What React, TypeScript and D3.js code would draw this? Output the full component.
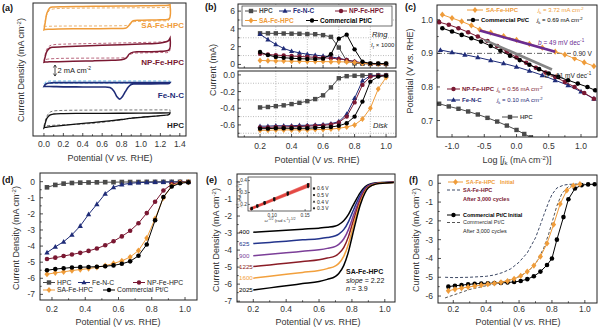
import React from 'react';
import * as d3 from 'd3';

const FONT = "'Liberation Sans', Arial, Helvetica, sans-serif";
const C_SA = '#EF9C3A';
const C_NP = '#7A1832';
const C_FE = '#1F2C78';
const C_HPC = '#4A4A4A';
const C_PT = '#000000';
const AX = '#222222';

// ---------------- (a) CV data ----------------
const CV_UP_V = [0, 0.01, 0.03, 0.06, 0.1, 0.2, 0.4, 0.6, 0.8, 1.0, 1.2, 1.28, 1.3];
const CV_LO_V = [1.3, 1.29, 1.2, 1.0, 0.92, 0.88, 0.85, 0.8, 0.7, 0.5, 0.3, 0.15, 0.05, 0.01, 0];
const FE_LO_V = [1.3, 1.29, 1.2, 1.0, 0.93, 0.9, 0.87, 0.84, 0.81, 0.78, 0.75, 0.72, 0.68, 0.6, 0.4, 0.2, 0.1, 0.05, 0.01, 0];
const OFF_SA = 8.5, OFF_NP = 1.8, OFF_FE = -3.5, OFF_HPC = -10;
const SA_CV_UP = [-2.2, -1.2, 0.8, 1.8, 1.95, 2.0, 2.05, 2.08, 2.12, 2.17, 2.22, 2.28, 2.35];
const SA_CV_LO = [2.35, -0.2, -0.35, -0.45, -0.55, -1.3, -1.85, -1.95, -1.97, -2.0, -2.02, -2.05, -2.1, -2.15, -2.2];
const SA_N2_UP = [-1.6, -0.8, 0.6, 1.4, 1.6, 1.7, 1.75, 1.78, 1.8, 1.82, 1.85, 1.9, 2.0];
const SA_N2_LO = [2.0, -0.4, -0.55, -0.65, -0.75, -1.2, -1.4, -1.45, -1.47, -1.5, -1.5, -1.52, -1.55, -1.58, -1.6];
const NP_CV_UP = [-1.4, -0.6, 0.6, 1.2, 1.35, 1.42, 1.55, 1.68, 1.8, 1.93, 2.1, 2.5, 3.0];
const NP_CV_LO = [3.0, 0.9, 0.6, 0.5, 0.45, 0.1, -0.6, -0.95, -1.05, -1.15, -1.22, -1.28, -1.32, -1.36, -1.4];
const NP_N2_UP = [-1.1, -0.2, 1.0, 1.6, 1.8, 1.9, 1.98, 2.05, 2.12, 2.2, 2.3, 2.45, 2.6];
const NP_N2_LO = [2.6, 0.5, 0.4, 0.3, 0.25, -0.1, -0.45, -0.6, -0.62, -0.64, -0.66, -0.7, -0.8, -0.95, -1.1];
const FE_CV_UP = [-0.5, -0.2, 0.05, 0.15, 0.2, 0.2, 0.2, 0.2, 0.2, 0.2, 0.2, 0.2, 0.2];
const FE_CV_LO = [0.2, 0.05, 0.0, -0.03, -0.05, -0.15, -0.6, -1.4, -2.3, -2.8, -2.3, -1.3, -0.7, -0.6, -0.58, -0.56, -0.52, -0.5, -0.48, -0.5];
const FE_N2_UP = [0.0, 0.2, 0.4, 0.48, 0.5, 0.5, 0.5, 0.5, 0.5, 0.5, 0.5, 0.5, 0.5];
const FE_N2_LO = [0.5, 0.2, 0.15, 0.13, 0.12, 0.12, 0.12, 0.12, 0.12, 0.12, 0.12, 0.1, 0.05, 0.0, 0.0];
const HPC_CV_UP = [-1.55, -0.9, 0.2, 0.8, 1.0, 1.08, 1.1, 1.12, 1.14, 1.16, 1.18, 1.2, 1.2];
const HPC_CV_LO = [1.2, 0.9, 0.7, 0.4, 0.27, 0.2, 0.12, 0.0, -0.2, -0.55, -0.9, -1.15, -1.35, -1.45, -1.55];
const HPC_N2_UP = [-1.2, -0.5, 0.6, 1.3, 1.55, 1.65, 1.7, 1.72, 1.73, 1.74, 1.75, 1.75, 1.75];
const HPC_N2_LO = [1.75, 0.9, 0.7, 0.4, 0.3, 0.2, 0.1, -0.05, -0.3, -0.7, -0.9, -1.0, -1.1, -1.15, -1.2];
const A_XTICKS = [0, 0.2, 0.4, 0.6, 0.8, 1.0, 1.2, 1.4];
const A_SCALEBAR = [-2.1, -0.1];

// ---------------- (b) RRDE data ----------------
const B_V = [0.2, 0.25, 0.3, 0.35, 0.4, 0.45, 0.5, 0.55, 0.6, 0.65, 0.7, 0.75, 0.8, 0.85, 0.9, 0.95, 1.0];
const B_RING_HPC = [3.5, 3.5, 3.5, 3.48, 3.46, 3.45, 3.42, 3.4, 3.3, 3.1, 1.9, 0.4, 0.12, 0.08, 0.06, 0.06, 0.06];
const B_RING_FE = [3.4, 2.8, 2.25, 1.8, 1.5, 1.3, 1.15, 1.05, 0.95, 0.85, 0.7, 0.5, 0.32, 0.18, 0.08, 0.05, 0.05];
const B_RING_NP = [1.2, 1.12, 1.05, 1.0, 0.95, 0.9, 0.85, 0.8, 0.75, 0.7, 0.62, 0.5, 0.32, 0.15, 0.06, 0.05, 0.05];
const B_RING_SA = [0.45, 0.42, 0.4, 0.38, 0.36, 0.35, 0.34, 0.33, 0.32, 0.31, 0.3, 0.28, 0.22, 0.12, 0.06, 0.05, 0.05];
const B_RING_PT = [1.4, 1.05, 0.85, 0.75, 0.7, 0.65, 0.62, 0.6, 0.65, 1.15, 2.9, 3.35, 1.7, 0.3, 0.12, 0.1, 0.1];
const B_DISK_HPC = [-0.39, -0.385, -0.375, -0.365, -0.35, -0.335, -0.315, -0.29, -0.245, -0.15, -0.04, -0.015, -0.01, -0.008, -0.005, -0.005, -0.005];
const B_DISK_FE = [-0.615, -0.615, -0.61, -0.61, -0.61, -0.605, -0.605, -0.6, -0.595, -0.585, -0.56, -0.47, -0.28, -0.07, -0.01, -0.005, -0.005];
const B_DISK_NP = [-0.63, -0.63, -0.625, -0.625, -0.62, -0.62, -0.615, -0.61, -0.605, -0.595, -0.57, -0.5, -0.33, -0.12, -0.02, -0.01, -0.005];
const B_DISK_PT = [-0.645, -0.645, -0.64, -0.64, -0.64, -0.64, -0.64, -0.635, -0.63, -0.625, -0.61, -0.58, -0.5, -0.32, -0.08, -0.02, -0.01];
const B_DISK_SA = [-0.665, -0.665, -0.66, -0.66, -0.66, -0.66, -0.66, -0.655, -0.655, -0.65, -0.64, -0.625, -0.6, -0.53, -0.4, -0.17, -0.03];
const B_XTICKS = [0.2, 0.4, 0.6, 0.8, 1.0];
const B_XMINOR = [0.1, 0.3, 0.5, 0.7, 0.9];
const B_YU_TICKS = [0, 2, 4, 6];
const B_YU_MINOR = [1, 3, 5];
const B_YL_TICKS = [0, -0.2, -0.4, -0.6];
const B_YL_MINOR = [-0.1, -0.3, -0.5, -0.7];

// ---------------- (c) Tafel data ----------------
const C_SA_X = [-1.15, -1.0, -0.85, -0.7, -0.57, -0.4, -0.2, 0, 0.2, 0.4, 0.6, 0.75, 0.9, 1.05, 1.2];
const C_SA_Y = [1.015, 1.005, 0.995, 0.983, 0.971, 0.962, 0.951, 0.94, 0.928, 0.917, 0.905, 0.896, 0.885, 0.873, 0.862];
const C_PT_X = [-1.15, -1.0, -0.85, -0.7, -0.55, -0.4, -0.25, -0.1, 0.05, 0.2, 0.35, 0.5, 0.65, 0.8, 0.95, 1.1, 1.22];
const C_PT_Y = [0.975, 0.965, 0.955, 0.945, 0.935, 0.922, 0.908, 0.893, 0.88, 0.866, 0.853, 0.84, 0.83, 0.82, 0.81, 0.8, 0.79];
const C_NP_X = [-1.2, -1.05, -0.9, -0.75, -0.6, -0.45, -0.3, -0.15, 0, 0.15, 0.3, 0.45, 0.6, 0.75, 0.9, 1.05, 1.2];
const C_NP_Y = [0.993, 0.985, 0.975, 0.963, 0.95, 0.937, 0.922, 0.905, 0.888, 0.872, 0.857, 0.843, 0.83, 0.815, 0.8, 0.782, 0.765];
const C_FE_X = [-1.18, -1.0, -0.8, -0.6, -0.4, -0.2, 0, 0.2, 0.4, 0.6, 0.8, 1.0, 1.2];
const C_FE_Y = [0.91, 0.903, 0.896, 0.888, 0.879, 0.87, 0.86, 0.848, 0.835, 0.82, 0.805, 0.786, 0.765];
const C_HPC_X = [-1.2, -1.05, -0.9, -0.75, -0.6, -0.45, -0.3, -0.15, 0, 0.12, 0.22];
const C_HPC_Y = [0.75, 0.742, 0.735, 0.727, 0.718, 0.708, 0.697, 0.685, 0.672, 0.66, 0.65];
const C_FIT49_X = [-0.57, 0.6];
const C_FIT49_Y = [0.968, 0.905];
const C_FIT61_X = [-0.5, 0.55];
const C_FIT61_Y = [0.94, 0.852];
const C_REF_E = 0.9;
const C_XTICKS = [-1.0, -0.5, 0.0, 0.5, 1.0];
const C_YTICKS = [0.7, 0.8, 0.9, 1.0];
const C_JK = ['3.72', '0.69', '0.56', '0.10'];

// ---------------- (d) LSV data ----------------
const D_V = [0.17, 0.22, 0.27, 0.32, 0.37, 0.42, 0.47, 0.52, 0.57, 0.62, 0.67, 0.72, 0.77, 0.82, 0.87, 0.92, 0.97, 1.02];
const D_HPC = [-0.35, -0.2, -0.12, -0.08, -0.06, -0.05, -0.04, -0.03, -0.03, -0.02, -0.02, -0.02, -0.01, -0.01, -0.01, -0.01, -0.01, -0.01];
const D_FE = [-4.4, -4.05, -3.73, -3.3, -2.75, -2.03, -1.4, -0.75, -0.35, -0.18, -0.1, -0.06, -0.04, -0.03, -0.02, -0.02, -0.01, -0.01];
const D_NP = [-4.8, -4.72, -4.62, -4.52, -4.42, -4.3, -4.15, -3.95, -3.7, -3.4, -3.05, -2.58, -1.95, -1.25, -0.55, -0.15, -0.04, -0.02];
const D_SA = [-5.75, -5.66, -5.6, -5.52, -5.46, -5.4, -5.32, -5.22, -5.08, -4.92, -4.68, -4.28, -3.5, -2.3, -1.0, -0.25, -0.06, -0.02];
const D_PT = [-5.5, -5.43, -5.38, -5.33, -5.31, -5.3, -5.28, -5.25, -5.2, -5.1, -4.95, -4.6, -3.9, -2.4, -0.95, -0.3, -0.1, -0.04];
const D_XTICKS = [0.2, 0.4, 0.6, 0.8, 1.0];
const D_YTICKS = [0, -1, -2, -3, -4, -5, -6, -7];

// ---------------- (e) RDE at rpm ----------------
const E_V = [0.2, 0.3, 0.4, 0.5, 0.6, 0.65, 0.7, 0.72, 0.75, 0.78, 0.8, 0.82, 0.85, 0.88, 0.9, 0.95, 1.0, 1.055];
const E_400 = [-2.95, -2.89, -2.83, -2.77, -2.71, -2.66, -2.58, -2.5, -2.28, -1.89, -1.51, -1.14, -0.64, -0.29, -0.16, -0.05, -0.03, -0.01];
const E_625 = [-3.62, -3.55, -3.48, -3.4, -3.33, -3.26, -3.16, -3.06, -2.8, -2.31, -1.86, -1.4, -0.78, -0.36, -0.2, -0.07, -0.03, -0.02];
const E_900 = [-4.33, -4.24, -4.16, -4.07, -3.98, -3.9, -3.78, -3.66, -3.35, -2.77, -2.22, -1.68, -0.94, -0.43, -0.23, -0.08, -0.04, -0.02];
const E_1225 = [-4.97, -4.87, -4.77, -4.67, -4.57, -4.47, -4.34, -4.2, -3.85, -3.18, -2.55, -1.92, -1.07, -0.49, -0.27, -0.09, -0.04, -0.02];
const E_1600 = [-5.65, -5.54, -5.42, -5.31, -5.2, -5.09, -4.93, -4.78, -4.37, -3.61, -2.9, -2.19, -1.22, -0.56, -0.31, -0.1, -0.05, -0.03];
const E_2025 = [-6.35, -6.22, -6.1, -5.97, -5.84, -5.72, -5.54, -5.37, -4.91, -4.06, -3.26, -2.46, -1.37, -0.63, -0.34, -0.11, -0.06, -0.03];
const E_RPM = ['400', '625', '900', '1225', '1600', '2025'];
const E_COLORS = ['#000000', '#23348C', '#7B3E98', '#8A1C26', '#F2A03D', '#000000'];
const E_KL_X = [0.0687, 0.0772, 0.0883, 0.103, 0.1236, 0.1545];
const E_KL_03 = [0.159, 0.181, 0.205, 0.236, 0.282, 0.346];
const E_KL_04 = [0.164, 0.185, 0.21, 0.24, 0.287, 0.353];
const E_KL_05 = [0.167, 0.188, 0.214, 0.246, 0.294, 0.361];
const E_KL_06 = [0.171, 0.192, 0.219, 0.251, 0.3, 0.369];
const E_KL_LABELS = ['0.6 V', '0.5 V', '0.4 V', '0.3 V'];

// ---------------- (f) stability ----------------
const F_SA_V = [0.17, 0.21, 0.25, 0.29, 0.33, 0.37, 0.41, 0.45, 0.49, 0.53, 0.57, 0.61, 0.65, 0.69, 0.73, 0.77, 0.81, 0.85, 0.89, 0.93, 0.97];
const F_SA_I = [-5.72, -5.64, -5.58, -5.52, -5.47, -5.42, -5.37, -5.32, -5.27, -5.2, -5.08, -4.93, -4.7, -4.38, -3.9, -3.2, -2.2, -1.1, -0.38, -0.12, -0.05];
const F_PT_V = [0.17, 0.21, 0.25, 0.29, 0.33, 0.37, 0.41, 0.45, 0.49, 0.53, 0.57, 0.61, 0.65, 0.69, 0.73, 0.77, 0.8, 0.83, 0.87, 0.9, 0.94, 0.98, 1.02, 1.06];
const F_PT_I = [-5.5, -5.45, -5.42, -5.38, -5.35, -5.33, -5.32, -5.31, -5.3, -5.28, -5.25, -5.2, -5.1, -4.95, -4.7, -4.35, -4.0, -3.0, -1.8, -0.85, -0.28, -0.1, -0.06, -0.05];
const F_PTA_V = [0.15, 0.2, 0.3, 0.4, 0.45, 0.5, 0.55, 0.6, 0.65, 0.7, 0.73, 0.75, 0.78, 0.8, 0.83, 0.87, 0.9, 0.95, 1.0];
const F_PTA_I = [-5.0, -5.02, -5.0, -4.95, -4.88, -4.75, -4.55, -4.2, -3.7, -2.9, -2.2, -1.7, -1.0, -0.6, -0.25, -0.1, -0.06, -0.04, -0.03];
const F_SAA_V = [0.15, 0.2, 0.25, 0.3, 0.4, 0.5, 0.55, 0.6, 0.65, 0.7, 0.75, 0.78, 0.8, 0.83, 0.86, 0.9, 0.95, 1.0];
const F_SAA_I = [-6.1, -5.95, -5.8, -5.65, -5.45, -5.25, -5.12, -4.97, -4.72, -4.3, -3.45, -2.7, -2.1, -1.2, -0.55, -0.18, -0.07, -0.05];
const F_XTICKS = [0.2, 0.4, 0.6, 0.8, 1.0];
const F_YTICKS = [0, -1, -2, -3, -4, -5, -6];

// ---------------- helpers ----------------
const fmt1 = (v) => (v < 0 ? '-' : '') + Math.abs(v).toFixed(1);
const fmt0 = (v) => (v < 0 ? '-' : '') + Math.abs(v).toFixed(0);

function Marker({ shape, x, y, s, fill }) {
  if (shape === 'square') return <rect x={x - s / 2} y={y - s / 2} width={s} height={s} fill={fill} />;
  if (shape === 'circle') return <circle cx={x} cy={y} r={s / 2} fill={fill} />;
  if (shape === 'triangle')
    return <path d={`M${x},${y - s * 0.62}L${x + s * 0.58},${y + s * 0.42}L${x - s * 0.58},${y + s * 0.42}Z`} fill={fill} />;
  if (shape === 'diamond')
    return <path d={`M${x},${y - s * 0.68}L${x + s * 0.55},${y}L${x},${y + s * 0.68}L${x - s * 0.55},${y}Z`} fill={fill} />;
  return null;
}

function Series({ xs, ys, x, y, color, shape, size = 4.6, width = 1, dash, curve }) {
  const pts = xs.map((v, i) => [x(v), y(ys[i])]);
  const line = d3.line();
  if (curve) line.curve(curve);
  return (
    <g>
      <path d={line(pts)} fill="none" stroke={color} strokeWidth={width} strokeDasharray={dash} />
      {shape && pts.map((p, i) => <Marker key={i} shape={shape} x={p[0]} y={p[1]} s={size} fill={color} />)}
    </g>
  );
}

function LegItem({ x1, x2, y, color, shape, text, tx, fs = 6.5, bold = true, dash, size = 4.4, tcolor }) {
  return (
    <g>
      <line x1={x1} x2={x2} y1={y} y2={y} stroke={color} strokeWidth={1} strokeDasharray={dash} />
      {shape && <Marker shape={shape} x={(x1 + x2) / 2} y={y} s={size} fill={color} />}
      {text && (
        <text x={tx} y={y + fs * 0.36} fontSize={fs} fontWeight={bold ? 'bold' : 'normal'} fill={tcolor || color}>
          {text}
        </text>
      )}
    </g>
  );
}

function XAxis({ scale, y0, ticks, minor, fmt, ly, fs = 8.5 }) {
  return (
    <g>
      {ticks.map((v) => (
        <line key={'a' + v} x1={scale(v)} x2={scale(v)} y1={y0} y2={y0 - 3} stroke={AX} strokeWidth={0.8} />
      ))}
      {(minor || []).map((v) => (
        <line key={'b' + v} x1={scale(v)} x2={scale(v)} y1={y0} y2={y0 - 1.7} stroke={AX} strokeWidth={0.8} />
      ))}
      {fmt &&
        ticks.map((v) => (
          <text key={'t' + v} x={scale(v)} y={ly} textAnchor="middle" fontSize={fs} fill="#333">
            {fmt(v)}
          </text>
        ))}
    </g>
  );
}

function YAxis({ scale, x0, ticks, minor, fmt, lx, fs = 8.5 }) {
  return (
    <g>
      {ticks.map((v) => (
        <line key={'a' + v} x1={x0} x2={x0 + 3} y1={scale(v)} y2={scale(v)} stroke={AX} strokeWidth={0.8} />
      ))}
      {(minor || []).map((v) => (
        <line key={'b' + v} x1={x0} x2={x0 + 1.7} y1={scale(v)} y2={scale(v)} stroke={AX} strokeWidth={0.8} />
      ))}
      {fmt &&
        ticks.map((v) => (
          <text key={'t' + v} x={lx} y={scale(v) + fs * 0.35} textAnchor="end" fontSize={fs} fill="#333">
            {fmt(v)}
          </text>
        ))}
    </g>
  );
}

function Frame({ x0, x1, y0, y1 }) {
  return <rect x={x0} y={y0} width={x1 - x0} height={y1 - y0} fill="none" stroke={AX} strokeWidth={1} />;
}

function PotTitle({ x, y }) {
  return (
    <text x={x} y={y} textAnchor="middle" fontSize={9} fill="#333">
      Potential (V <tspan fontStyle="italic">vs.</tspan> RHE)
    </text>
  );
}

function DensTitle({ x, y }) {
  return (
    <text transform={`translate(${x},${y}) rotate(-90)`} textAnchor="middle" fontSize={9} fill="#333">
      Current Density (mA cm<tspan dy={-3.2} fontSize={6}>-2</tspan>
      <tspan dy={3.2}>)</tspan>
    </text>
  );
}

function Jk({ val, fs = 6 }) {
  return (
    <>
      <tspan fontStyle="italic">j</tspan>
      <tspan dy={1.6} fontSize={fs * 0.7}>k</tspan>
      <tspan dy={-1.6}>{` = ${val} mA cm`}</tspan>
      <tspan dy={-2.6} fontSize={fs * 0.7}>-2</tspan>
      <tspan dy={2.6}> </tspan>
    </>
  );
}

const range = (a, b, s) => d3.range(a, b + s / 2, s).map((v) => +v.toFixed(4));

// ---------------- Panels ----------------
function PanelA() {
  const x = d3.scaleLinear().domain([-0.113, 1.464]).range([33, 186]);
  const y = d3.scaleLinear().domain([-13, 11.18]).range([136, 3]);
  const loop = (upV, up, loV, lo, off) => {
    const pts = [...upV.map((v, i) => [v, up[i] + off]), ...loV.map((v, i) => [v, lo[i] + off])];
    return d3.line().x((d) => x(d[0])).y((d) => y(d[1])).curve(d3.curveCatmullRom.alpha(0.5))(pts) + 'Z';
  };
  const sbx = 55;
  return (
    <g>
      <path d={loop(CV_UP_V, SA_N2_UP, CV_LO_V, SA_N2_LO, OFF_SA)} fill="none" stroke="#E7A65A" strokeWidth={0.9} strokeDasharray="3,2" />
      <path d={loop(CV_UP_V, SA_CV_UP, CV_LO_V, SA_CV_LO, OFF_SA)} fill="none" stroke={C_SA} strokeWidth={1.5} />
      <path d={loop(CV_UP_V, NP_N2_UP, CV_LO_V, NP_N2_LO, OFF_NP)} fill="none" stroke="#B2556E" strokeWidth={0.9} strokeDasharray="3,2" />
      <path d={loop(CV_UP_V, NP_CV_UP, CV_LO_V, NP_CV_LO, OFF_NP)} fill="none" stroke={C_NP} strokeWidth={1.5} />
      <path d={loop(CV_UP_V, FE_N2_UP, CV_LO_V, FE_N2_LO, OFF_FE)} fill="none" stroke="#5DB6E6" strokeWidth={1} strokeDasharray="3,2" />
      <path d={loop(CV_UP_V, FE_CV_UP, FE_LO_V, FE_CV_LO, OFF_FE)} fill="none" stroke={C_FE} strokeWidth={1.6} />
      <path d={loop(CV_UP_V, HPC_N2_UP, CV_LO_V, HPC_N2_LO, OFF_HPC)} fill="none" stroke="#666" strokeWidth={0.9} strokeDasharray="3,2" />
      <path d={loop(CV_UP_V, HPC_CV_UP, CV_LO_V, HPC_CV_LO, OFF_HPC)} fill="none" stroke="#111" strokeWidth={1.3} />
      <line x1={sbx} x2={sbx} y1={y(A_SCALEBAR[1])} y2={y(A_SCALEBAR[0])} stroke="#222" strokeWidth={0.8} />
      <path d={`M${sbx - 1.6},${y(A_SCALEBAR[1]) + 2.5}L${sbx},${y(A_SCALEBAR[1])}L${sbx + 1.6},${y(A_SCALEBAR[1]) + 2.5}`} fill="none" stroke="#222" strokeWidth={0.8} />
      <path d={`M${sbx - 1.6},${y(A_SCALEBAR[0]) - 2.5}L${sbx},${y(A_SCALEBAR[0])}L${sbx + 1.6},${y(A_SCALEBAR[0]) - 2.5}`} fill="none" stroke="#222" strokeWidth={0.8} />
      <text x={sbx + 2.5} y={(y(A_SCALEBAR[0]) + y(A_SCALEBAR[1])) / 2 + 2.5} fontSize={7.5} fill="#222">
        2 mA cm<tspan dy={-2.8} fontSize={5}>-2</tspan>
      </text>
      <text x={184} y={28} textAnchor="end" fontSize={8} fontWeight="bold" fill={C_SA}>SA-Fe-HPC</text>
      <text x={184} y={65} textAnchor="end" fontSize={8} fontWeight="bold" fill={C_NP}>NP-Fe-HPC</text>
      <text x={184} y={98} textAnchor="end" fontSize={8} fontWeight="bold" fill={C_FE}>Fe-N-C</text>
      <text x={184} y={128} textAnchor="end" fontSize={8} fontWeight="bold" fill="#222">HPC</text>
      <Frame x0={33} x1={186} y0={3} y1={136} />
      <XAxis scale={x} y0={136} ticks={A_XTICKS} minor={range(0.1, 1.3, 0.2)} fmt={fmt1} ly={146.5} />
      <PotTitle x={110} y={160.5} />
      <DensTitle x={24} y={70} />
      <text x={2} y={11} fontSize={9} fontWeight="bold" fill="#111">(a)</text>
    </g>
  );
}

function PanelB() {
  const x = d3.scaleLinear().domain([0.06, 1.063]).range([238, 396]);
  const yu = d3.scaleLinear().domain([-0.4, 6.8]).range([68, 4]);
  const yl = d3.scaleLinear().domain([-0.745, 0.047]).range([137, 71]);
  const g = { stroke: '#8f8f8f', strokeWidth: 0.6, strokeDasharray: '1,1.5' };
  const ring = [
    [B_RING_HPC, C_HPC, 'square'],
    [B_RING_FE, C_FE, 'triangle'],
    [B_RING_NP, C_NP, 'circle'],
    [B_RING_SA, C_SA, 'diamond'],
    [B_RING_PT, C_PT, 'circle'],
  ];
  const disk = [
    [B_DISK_HPC, C_HPC, 'square'],
    [B_DISK_FE, C_FE, 'triangle'],
    [B_DISK_NP, C_NP, 'circle'],
    [B_DISK_SA, C_SA, 'diamond'],
    [B_DISK_PT, C_PT, 'circle'],
  ];
  return (
    <g>
      {B_XMINOR.filter((v) => v > 0.1).map((v) => (
        <g key={v}>
          <line x1={x(v)} x2={x(v)} y1={4} y2={68} {...g} />
          <line x1={x(v)} x2={x(v)} y1={71} y2={137} {...g} />
        </g>
      ))}
      {B_YU_MINOR.map((v) => <line key={'u' + v} x1={238} x2={396} y1={yu(v)} y2={yu(v)} {...g} />)}
      {B_YL_MINOR.map((v) => <line key={'l' + v} x1={238} x2={396} y1={yl(v)} y2={yl(v)} {...g} />)}
      {ring.map(([d, c, s], i) => <Series key={i} xs={B_V} ys={d} x={x} y={yu} color={c} shape={s} size={4.4} />)}
      {disk.map(([d, c, s], i) => <Series key={i} xs={B_V} ys={d} x={x} y={yl} color={c} shape={s} size={4.4} />)}
      <Frame x0={238} x1={396} y0={4} y1={68} />
      <Frame x0={238} x1={396} y0={71} y1={137} />
      <XAxis scale={x} y0={137} ticks={B_XTICKS} minor={B_XMINOR} fmt={fmt1} ly={149} />
      <XAxis scale={x} y0={68} ticks={B_XTICKS} minor={B_XMINOR} />
      <YAxis scale={yu} x0={238} ticks={B_YU_TICKS} minor={B_YU_MINOR} fmt={fmt0} lx={235} />
      <YAxis scale={yl} x0={238} ticks={B_YL_TICKS} minor={B_YL_MINOR} fmt={fmt1} lx={235} />
      <rect x={242} y={6} width={150} height={20} fill="#fff" stroke="#333" strokeWidth={0.7} />
      <LegItem x1={245} x2={257} y={11} color={C_HPC} shape="square" text="HPC" tx={259} />
      <LegItem x1={279} x2={291} y={11} color={C_FE} shape="triangle" text="Fe-N-C" tx={293} />
      <LegItem x1={335} x2={347} y={11} color={C_NP} shape="circle" text="NP-Fe-HPC" tx={349} />
      <LegItem x1={245} x2={257} y={20.5} color={C_SA} shape="diamond" text="SA-Fe-HPC" tx={259} />
      <LegItem x1={306} x2={318} y={20.5} color={C_PT} shape="circle" text="Commercial Pt/C" tx={320} />
      <text x={372} y={37} fontSize={7.5} fontStyle="italic" fill="#222">Ring</text>
      <text x={371} y={47} fontSize={6} fill="#222">
        <tspan fontStyle="italic">I</tspan>
        <tspan dy={1.5} fontSize={4.5}>r</tspan>
        <tspan dy={-1.5}> × 1000</tspan>
      </text>
      <text x={373} y={128} fontSize={7.5} fontStyle="italic" fill="#222">Disk</text>
      <PotTitle x={317} y={163} />
      <text transform="translate(216,70) rotate(-90)" textAnchor="middle" fontSize={9} fill="#333">Current (mA)</text>
      <text x={205} y={10} fontSize={9} fontWeight="bold" fill="#111">(b)</text>
    </g>
  );
}

function PanelC() {
  const x = d3.scaleLinear().domain([-1.233, 1.248]).range([437, 597]);
  const y = d3.scaleLinear().domain([0.651, 1.044]).range([137, 5]);
  const fit = (xs, ys, c) => <line x1={x(xs[0])} x2={x(xs[1])} y1={y(ys[0])} y2={y(ys[1])} stroke={c} strokeWidth={2.6} />;
  return (
    <g>
      <defs>
        <clipPath id="clipC"><rect x={437} y={5} width={160} height={132} /></clipPath>
      </defs>
      <line x1={437} x2={597} y1={y(C_REF_E)} y2={y(C_REF_E)} stroke="#222" strokeWidth={0.7} strokeDasharray="5,2,1,2" />
      <g clipPath="url(#clipC)">
        <Series xs={C_HPC_X} ys={C_HPC_Y} x={x} y={y} color={C_HPC} shape="square" size={4.4} />
        <Series xs={C_FE_X} ys={C_FE_Y} x={x} y={y} color={C_FE} shape="triangle" size={4.6} />
        <Series xs={C_NP_X} ys={C_NP_Y} x={x} y={y} color={C_NP} shape="circle" size={4.6} />
        <Series xs={C_PT_X} ys={C_PT_Y} x={x} y={y} color={C_PT} shape="circle" size={4.6} />
        <Series xs={C_SA_X} ys={C_SA_Y} x={x} y={y} color={C_SA} shape="diamond" size={4.6} />
        {fit(C_FIT61_X, C_FIT61_Y, '#858585')}
        {fit(C_FIT49_X, C_FIT49_Y, '#6B2C91')}
      </g>
      <Frame x0={437} x1={597} y0={5} y1={137} />
      <XAxis scale={x} y0={137} ticks={C_XTICKS} minor={[-0.75, -0.25, 0.25, 0.75]} fmt={fmt1} ly={149} />
      <YAxis scale={y} x0={437} ticks={C_YTICKS} minor={[0.75, 0.85, 0.95]} fmt={fmt1} lx={433} />
      <LegItem x1={467} x2={483} y={10} color={C_SA} shape="diamond" text="SA-Fe-HPC" tx={486} fs={6} />
      <text x={538} y={12.2} fontSize={6} fill={C_SA}><Jk val={C_JK[0]} /></text>
      <LegItem x1={467} x2={479} y={20} color={C_PT} shape="circle" text="Commercial Pt/C" tx={481} fs={6} />
      <text x={537} y={22.2} fontSize={6} fill={C_PT}><Jk val={C_JK[1]} /></text>
      <text x={538} y={45} fontSize={6.5} fill="#6B2C91">
        <tspan fontStyle="italic">b</tspan> = 49 mV dec<tspan dy={-2.6} fontSize={4.6}>-1</tspan>
      </text>
      <rect x={571} y={y(C_REF_E) - 3.5} width={25} height={7} fill="#fff" />
      <text x={573} y={y(C_REF_E) + 2.3} fontSize={6.5} fill="#222">0.90 V</text>
      <text x={545} y={77.5} fontSize={6.5} fill="#222">
        <tspan fontStyle="italic">b</tspan> = 61 mV dec<tspan dy={-2.6} fontSize={4.6}>-1</tspan>
      </text>
      <LegItem x1={447} x2={460} y={89} color={C_NP} shape="circle" text="NP-Fe-HPC" tx={462} fs={6} />
      <text x={497} y={91.2} fontSize={6} fill={C_NP}><Jk val={C_JK[2]} /></text>
      <LegItem x1={447} x2={460} y={100} color={C_FE} shape="triangle" text="Fe-N-C" tx={462} fs={6} />
      <text x={497} y={102.2} fontSize={6} fill={C_FE}><Jk val={C_JK[3]} /></text>
      <LegItem x1={502} x2={518} y={117} color={C_HPC} shape="square" text="HPC" tx={520} fs={6} />
      <text x={517} y={163} textAnchor="middle" fontSize={9} fill="#333">
        Log [<tspan fontStyle="italic">j</tspan><tspan dy={2} fontSize={6}>k</tspan><tspan dy={-2}> (mA cm</tspan>
        <tspan dy={-3.2} fontSize={6}>-2</tspan><tspan dy={3.2}>)]</tspan>
      </text>
      <text transform="translate(413,71) rotate(-90)" textAnchor="middle" fontSize={9} fill="#333">
        Potential (V <tspan fontStyle="italic">vs.</tspan> RHE)
      </text>
      <text x={405} y={10} fontSize={9} fontWeight="bold" fill="#111">(c)</text>
    </g>
  );
}

function PanelD() {
  const x = d3.scaleLinear().domain([0.128, 1.072]).range([40, 197]);
  const y = d3.scaleLinear().domain([-7.35, 0.54]).range([300, 173]);
  return (
    <g>
      <Series xs={D_V} ys={D_HPC} x={x} y={y} color={C_HPC} shape="square" />
      <Series xs={D_V} ys={D_FE} x={x} y={y} color={C_FE} shape="triangle" />
      <Series xs={D_V} ys={D_NP} x={x} y={y} color={C_NP} shape="circle" />
      <Series xs={D_V} ys={D_SA} x={x} y={y} color={C_SA} shape="diamond" />
      <Series xs={D_V} ys={D_PT} x={x} y={y} color={C_PT} shape="circle" />
      <Frame x0={40} x1={197} y0={173} y1={300} />
      <XAxis scale={x} y0={300} ticks={D_XTICKS} minor={[0.3, 0.5, 0.7, 0.9]} fmt={fmt1} ly={311.5} />
      <YAxis scale={y} x0={40} ticks={D_YTICKS} minor={range(-6.5, -0.5, 1)} fmt={fmt0} lx={35} />
      <LegItem x1={43} x2={55} y={282.5} color={C_HPC} shape="square" text="HPC" tx={57} bold={false} fs={6.8} tcolor="#222" />
      <LegItem x1={78} x2={90} y={282.5} color={C_FE} shape="triangle" text="Fe-N-C" tx={92} bold={false} fs={6.8} tcolor="#222" />
      <LegItem x1={133} x2={145} y={282.5} color={C_NP} shape="circle" text="NP-Fe-HPC" tx={147} bold={false} fs={6.8} tcolor="#222" />
      <LegItem x1={43} x2={55} y={290} color={C_SA} shape="diamond" text="SA-Fe-HPC" tx={57} bold={false} fs={6.8} tcolor="#222" />
      <LegItem x1={103} x2={115} y={290} color={C_PT} shape="circle" text="Commercial Pt/C" tx={117} bold={false} fs={6.8} tcolor="#222" />
      <PotTitle x={118} y={325} />
      <DensTitle x={19} y={238} />
      <text x={2} y={183} fontSize={9} fontWeight="bold" fill="#111">(d)</text>
    </g>
  );
}

function PanelE() {
  const x = d3.scaleLinear().domain([0.101, 1.062]).range([237, 395]);
  const y = d3.scaleLinear().domain([-7.05, 0.47]).range([302, 174]);
  const curves = [E_400, E_625, E_900, E_1225, E_1600, E_2025];
  const ix = d3.scaleLinear().domain([0.063, 0.159]).range([248, 311]);
  const iy = d3.scaleLinear().domain([0.145, 0.43]).range([211, 177]);
  const kl = [E_KL_06, E_KL_05, E_KL_04, E_KL_03];
  const klShapes = ['square', 'circle', 'triangle', 'diamond'];
  const fitLine = (ys) => {
    const mx = d3.mean(E_KL_X), my = d3.mean(ys);
    const sxy = d3.sum(E_KL_X.map((v, i) => (v - mx) * (ys[i] - my)));
    const sxx = d3.sum(E_KL_X.map((v) => (v - mx) * (v - mx)));
    const b = sxy / sxx, a = my - b * mx;
    const x0 = 0.066, x1 = 0.157;
    return <line x1={ix(x0)} x2={ix(x1)} y1={iy(a + b * x0)} y2={iy(a + b * x1)} stroke="#E23B36" strokeWidth={1.6} strokeOpacity={0.75} />;
  };
  return (
    <g>
      {curves.map((c, i) => (
        <Series key={i} xs={E_V} ys={c} x={x} y={y} color={E_COLORS[i]} width={1.5} curve={d3.curveMonotoneX} />
      ))}
      {curves.map((c, i) => (
        <text key={'l' + i} x={239} y={y(c[0]) + 2.2} fontSize={6.2} fill={E_COLORS[i]}>{E_RPM[i]}</text>
      ))}
      <Frame x0={237} x1={395} y0={174} y1={302} />
      <XAxis scale={x} y0={302} ticks={D_XTICKS} minor={[0.3, 0.5, 0.7, 0.9]} fmt={fmt1} ly={312} />
      <YAxis scale={y} x0={237} ticks={D_YTICKS} minor={range(-6.5, -0.5, 1)} fmt={fmt0} lx={232} />
      <rect x={248} y={177} width={63} height={34} fill="#fff" stroke={AX} strokeWidth={0.7} />
      {kl.map((ys, i) => <g key={i}>{fitLine(ys)}</g>)}
      {kl.map((ys, i) =>
        E_KL_X.map((v, j) => <Marker key={i + '-' + j} shape={klShapes[i]} x={ix(v)} y={iy(ys[j])} s={2.2} fill="#111" />)
      )}
      {[0.2, 0.3, 0.4].map((v) => (
        <g key={v}>
          <line x1={248} x2={250} y1={iy(v)} y2={iy(v)} stroke={AX} strokeWidth={0.6} />
          <text x={247} y={iy(v) + 1.7} textAnchor="end" fontSize={4.8} fill="#333">{v.toFixed(1)}</text>
        </g>
      ))}
      {[0.1, 0.15].map((v) => (
        <g key={v}>
          <line x1={ix(v)} x2={ix(v)} y1={211} y2={209} stroke={AX} strokeWidth={0.6} />
          <text x={ix(v)} y={216.5} textAnchor="middle" fontSize={4.8} fill="#333">{v.toFixed(2)}</text>
        </g>
      ))}
      <text x={280} y={222} textAnchor="middle" fontSize={4.3} fill="#333">
        <tspan fontStyle="italic">ω</tspan><tspan dy={-1.8} fontSize={3.2}>-1/2</tspan><tspan dy={1.8}> (rad s</tspan>
        <tspan dy={-1.8} fontSize={3.2}>-1</tspan><tspan dy={1.8}>)</tspan><tspan dy={-1.8} fontSize={3.2}>-1/2</tspan>
      </text>
      <text transform="translate(241,194) rotate(-90)" textAnchor="middle" fontSize={4.2} fill="#333">
        <tspan fontStyle="italic">j</tspan><tspan dy={-1.6} fontSize={3.1}>-1</tspan><tspan dy={1.6}> (mA cm</tspan>
        <tspan dy={-1.6} fontSize={3.1}>-2</tspan><tspan dy={1.6}>)</tspan><tspan dy={-1.6} fontSize={3.1}>-1</tspan>
      </text>
      {E_KL_LABELS.map((t, i) => (
        <g key={t}>
          <Marker shape={klShapes[i]} x={314} y={188.5 + i * 6.6} s={2.2} fill="#111" />
          <text x={317} y={190.3 + i * 6.6} fontSize={5} fill="#222">{t}</text>
        </g>
      ))}
      <text x={346} y={274} fontSize={7} fontWeight="bold" fill="#111">SA-Fe-HPC</text>
      <text x={346} y={282.5} fontSize={7} fill="#111"><tspan fontStyle="italic">slope</tspan> = 2.22</text>
      <text x={346} y={291} fontSize={7} fill="#111"><tspan fontStyle="italic">n</tspan> = 3.9</text>
      <PotTitle x={318} y={325} />
      <DensTitle x={219} y={240} />
      <text x={206} y={183} fontSize={9} fontWeight="bold" fill="#111">(e)</text>
    </g>
  );
}

function PanelF() {
  const x = d3.scaleLinear().domain([0.107, 1.074]).range([438, 597]);
  const y = d3.scaleLinear().domain([-6.37, 0.44]).range([303, 175]);
  const C_PTA = '#3E4A66';
  const C_SAA = '#555555';
  return (
    <g>
      <Series xs={F_PTA_V} ys={F_PTA_I} x={x} y={y} color={C_PTA} width={1} dash="3,2" />
      <Series xs={F_SAA_V} ys={F_SAA_I} x={x} y={y} color={C_SAA} width={1} dash="3,2" />
      <Series xs={F_PT_V} ys={F_PT_I} x={x} y={y} color={C_PT} shape="circle" size={4.6} />
      <Series xs={F_SA_V} ys={F_SA_I} x={x} y={y} color={C_SA} shape="diamond" size={4.6} />
      <Frame x0={438} x1={597} y0={175} y1={303} />
      <XAxis scale={x} y0={303} ticks={F_XTICKS} minor={[0.3, 0.5, 0.7, 0.9]} fmt={fmt1} ly={311.5} />
      <YAxis scale={y} x0={438} ticks={F_YTICKS} minor={range(-5.5, -0.5, 1)} fmt={fmt0} lx={433} />
      <LegItem x1={448} x2={463} y={182} color={C_SA} shape="diamond" text="SA-Fe-HPC" tx={466} fs={5.5} />
      <text x={500} y={184} fontSize={5.5} fontWeight="bold" fill={C_SA}>Initial</text>
      <LegItem x1={447} x2={460} y={190} color={C_PTA} dash="3,2" text="SA-Fe-HPC" tx={463} fs={5.5} tcolor={C_NP} />
      <text x={463} y={200.5} fontSize={5.5} fontWeight="bold" fill={C_NP}>After 3,000 cycles</text>
      <LegItem x1={447} x2={460} y={215} color={C_PT} shape="circle" text="Commercial Pt/C" tx={463} fs={5.5} />
      <text x={508} y={217} fontSize={5.5} fontWeight="bold" fill={C_PT}>Initial</text>
      <LegItem x1={447} x2={460} y={222.5} color={C_SAA} dash="3,2" text="Commercial Pt/C" tx={463} fs={5.5} bold={false} tcolor="#333" />
      <text x={463} y={233} fontSize={5.5} fill="#222">After 3,000 cycles</text>
      <PotTitle x={518} y={325} />
      <DensTitle x={419} y={240} />
      <text x={409} y={183} fontSize={9} fontWeight="bold" fill="#111">(f)</text>
    </g>
  );
}

export default function App() {
  return (
    <svg
      width={600}
      height={330}
      viewBox="0 0 600 330"
      fontFamily={FONT}
      style={{ position: 'absolute', left: 0, top: 0, display: 'block', background: '#fff' }}
    >
      <rect width={600} height={330} fill="#fff" />
      <PanelA />
      <PanelB />
      <PanelC />
      <PanelD />
      <PanelE />
      <PanelF />
    </svg>
  );
}
